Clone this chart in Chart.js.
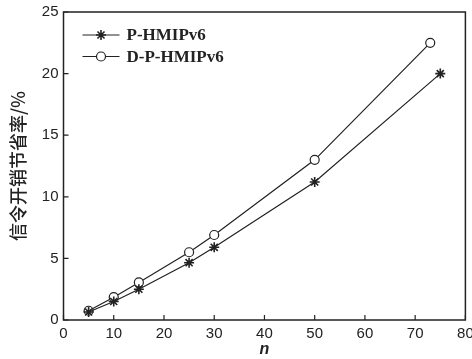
<!DOCTYPE html>
<html>
<head>
<meta charset="utf-8">
<script src="https://cdn.jsdelivr.net/npm/chart.js@4"></script>
<style>
  html, body { margin: 0; padding: 0; background: #fff; }
  #wrap { width: 472px; height: 359px; }
</style>
</head>
<body>
<div id="wrap"><canvas id="chart" width="472" height="359"></canvas></div>
<script>
// values
const nP = [5, 10, 15, 25, 30, 50, 75];
const savingP = [0.65, 1.5, 2.5, 4.65, 5.9, 11.2, 20.0];
const nD = [5, 10, 15, 25, 30, 50, 73];
const savingD = [0.75, 1.85, 3.05, 5.5, 6.9, 13.0, 22.5];
const seriesNames = ['P-HMIPv6', 'D-P-HMIPv6'];
const yTitle = '信令开销节省率/%';
const xTitle = 'n';

const ink = '#222';

// inward ticks, frame box and legend in the top-left corner
const framePlugin = {
    id: 'frame',
    afterDraw(chart) {
        const c = chart.ctx, a = chart.chartArea;
        const xs = chart.scales.x, ys = chart.scales.y;
        c.save();
        c.strokeStyle = ink;
        c.lineWidth = 1.5;
        c.strokeRect(a.left, a.top, a.right - a.left, a.bottom - a.top);
        c.lineWidth = 1.2;
        c.beginPath();
        xs.ticks.forEach(t => {
            const px = xs.getPixelForValue(t.value);
            c.moveTo(px, a.bottom); c.lineTo(px, a.bottom - 5);
        });
        ys.ticks.forEach(t => {
            const py = ys.getPixelForValue(t.value);
            c.moveTo(a.left, py); c.lineTo(a.left + 5, py);
        });
        c.stroke();

        // legend
        c.font = 'bold 17px "Liberation Serif", "DejaVu Serif", serif';
        c.textBaseline = 'middle';
        chart.data.datasets.forEach((ds, i) => {
            const y = a.top + 23 + i * 21.5;
            const x0 = a.left + 19, x1 = a.left + 56;
            c.strokeStyle = ink;
            c.lineWidth = 1.2;
            c.beginPath(); c.moveTo(x0, y); c.lineTo(x1, y); c.stroke();
            c.fillStyle = ds.backgroundColor;
            c.lineWidth = ds.pointBorderWidth;
            Chart.helpers.drawPoint(c, {
                pointStyle: ds.pointStyle, radius: ds.pointRadius,
                borderWidth: ds.pointBorderWidth, rotation: 0
            }, (x0 + x1) / 2, y);
            c.fillStyle = ink;
            c.fillText(ds.label, x1 + 7, y + 1);
        });
        c.restore();
    }
};

new Chart(document.getElementById('chart'), {
    type: 'line',
    data: {
        datasets: [
            {
                label: seriesNames[0],
                data: nP.map((n, i) => ({ x: n, y: savingP[i] })),
                borderColor: ink, backgroundColor: ink,
                borderWidth: 1.2, pointStyle: 'star', pointRadius: 5,
                pointBorderWidth: 1.6, tension: 0
            },
            {
                label: seriesNames[1],
                data: nD.map((n, i) => ({ x: n, y: savingD[i] })),
                borderColor: ink, backgroundColor: '#fff',
                borderWidth: 1.2, pointStyle: 'circle', pointRadius: 4.5,
                pointBorderWidth: 1.2, tension: 0
            }
        ]
    },
    options: {
        responsive: false,
        animation: false,
        layout: { padding: { left: 0, right: 4, top: 12, bottom: 0 } },
        plugins: {
            legend: { display: false },
            tooltip: { enabled: false }
        },
        scales: {
            x: {
                type: 'linear', min: 0, max: 80,
                ticks: { stepSize: 10, padding: 5, color: ink,
                         font: { family: '"Liberation Sans", Arial, sans-serif', size: 15 } },
                grid: { display: false, drawTicks: false },
                border: { display: false },
                title: { display: true, text: xTitle, color: ink, padding: { top: 0, bottom: 0 },
                         font: { family: '"Liberation Sans", Arial, sans-serif', size: 16, weight: 'bold', style: 'italic' } },
                afterFit(s) { s.height = 39; s.paddingLeft = 0; s.paddingRight = 0; }
            },
            y: {
                min: 0, max: 25,
                ticks: { stepSize: 5, padding: 5, color: ink,
                         font: { family: '"Liberation Sans", Arial, sans-serif', size: 15 } },
                grid: { display: false, drawTicks: false },
                border: { display: false },
                title: { display: true, text: yTitle, color: ink, padding: { top: 7, bottom: 0 },
                         font: { family: '"Noto Sans CJK SC", sans-serif', size: 18, weight: '500' } },
                afterFit(s) { s.width = 63.5; s.paddingTop = 0; s.paddingBottom = 0; }
            }
        }
    },
    plugins: [framePlugin]
});
</script>
</body>
</html>
